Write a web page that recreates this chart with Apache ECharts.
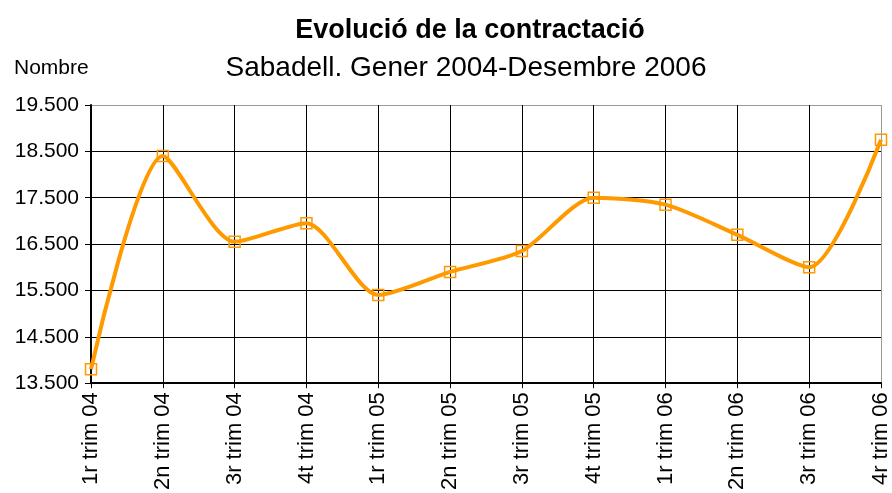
<!DOCTYPE html>
<html>
<head>
<meta charset="utf-8">
<script src="https://cdn.jsdelivr.net/npm/echarts@6/dist/echarts.min.js"></script>
<style>
  html, body { margin: 0; padding: 0; background: #fff; }
  #chart { width: 892px; height: 493px; }
</style>
</head>
<body>
<div id="chart"></div>
<script>
const categories = ['1r trim 04', '2n trim 04', '3r trim 04', '4t trim 04',
  '1r trim 05', '2n trim 05', '3r trim 05', '4t trim 05',
  '1r trim 06', '2n trim 06', '3r trim 06', '4r trim 06']
const contractes = [13800, 18400, 16550, 16950, 15400, 15900, 16350, 17500, 17350, 16700, 16000, 18750]

const font = 'Liberation Sans, Arial, sans-serif'
const fmt = v => String(v).replace(/\B(?=(\d{3})+(?!\d))/g, '.')

// last grid line on each axis is gray (plot border)
const xLineColors = categories.map((c, i) => i === categories.length - 1 ? '#999' : '#000')
const yLineColors = ['#000', '#000', '#000', '#000', '#000', '#000', '#999']

const chart = echarts.init(document.getElementById('chart'), null, { renderer: 'canvas' })
chart.setOption({
  animation: false,
  title: [
    {
      text: 'Evolució de la contractació',
      left: 465, top: 12, textAlign: 'center',
      textStyle: { fontFamily: font, fontSize: 27, fontWeight: 'bold', color: '#000' }
    },
    {
      text: 'Sabadell. Gener 2004-Desembre 2006',
      left: 461, top: 49, textAlign: 'center',
      textStyle: { fontFamily: font, fontSize: 28, fontWeight: 'normal', color: '#000' }
    },
    {
      text: 'Nombre',
      left: 9, top: 53,
      textStyle: { fontFamily: font, fontSize: 21, fontWeight: 'normal', color: '#000' }
    }
  ],
  grid: { left: 91, right: 10, top: 105, bottom: 109 },
  xAxis: {
    type: 'category',
    data: categories,
    boundaryGap: false,
    axisLine: { lineStyle: { color: '#000', width: 2 } },
    axisTick: { show: true, length: 5, lineStyle: { color: '#000', width: 1 } },
    axisLabel: { rotate: 90, fontFamily: font, fontSize: 22, color: '#000', margin: 9 },
    splitLine: { show: true, lineStyle: { color: xLineColors, width: 1 } }
  },
  yAxis: {
    type: 'value',
    min: 13500, max: 19500, interval: 1000,
    axisLine: { show: true, lineStyle: { color: '#000', width: 2 } },
    axisTick: { show: true, length: 6, lineStyle: { color: '#000' } },
    axisLabel: { fontFamily: font, fontSize: 21, color: '#000', margin: 12, formatter: fmt },
    splitLine: { lineStyle: { color: yLineColors, width: 1 } }
  },
  series: [{
    type: 'line',
    data: contractes,
    smooth: 0.25,
    symbol: 'rect',
    symbolSize: 11,
    lineStyle: { color: '#FF9900', width: 4 },
    itemStyle: { color: 'rgba(255,255,255,0)', borderColor: '#FF9900', borderWidth: 1.5 },
    z: 3
  }]
})
</script>
</body>
</html>
